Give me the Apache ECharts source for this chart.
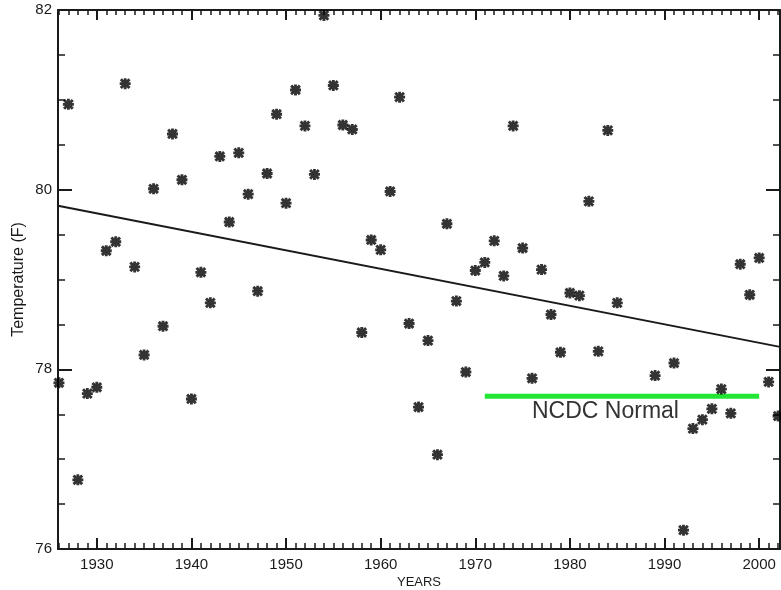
<!DOCTYPE html>
<html>
<head>
<meta charset="utf-8">
<script src="https://cdn.jsdelivr.net/npm/echarts@6/dist/echarts.min.js"></script>
<style>
html, body { margin: 0; padding: 0; background: #fff; }
#chart { width: 781px; height: 590px; }
</style>
</head>
<body>
<div id="chart"></div>
<script>

// yearly mean temperatures (F), 1986-88 and 1990 have no value
const years = [
    1926, 1927, 1928, 1929, 1930, 1931, 1932, 1933, 1934, 1935,
    1936, 1937, 1938, 1939, 1940, 1941, 1942, 1943, 1944, 1945,
    1946, 1947, 1948, 1949, 1950, 1951, 1952, 1953, 1954, 1955,
    1956, 1957, 1958, 1959, 1960, 1961, 1962, 1963, 1964, 1965,
    1966, 1967, 1968, 1969, 1970, 1971, 1972, 1973, 1974, 1975,
    1976, 1977, 1978, 1979, 1980, 1981, 1982, 1983, 1984, 1985,
    1989, 1991, 1992, 1993, 1994, 1995, 1996, 1997, 1998, 1999,
    2000, 2001, 2002
];

const temps = [
    77.85, 80.95, 76.77, 77.73, 77.80, 79.32, 79.42, 81.18, 79.14, 78.16,
    80.01, 78.48, 80.62, 80.11, 77.67, 79.08, 78.74, 80.37, 79.64, 80.41,
    79.95, 78.87, 80.18, 80.84, 79.85, 81.11, 80.71, 80.17, 81.94, 81.16,
    80.72, 80.67, 78.41, 79.44, 79.33, 79.98, 81.03, 78.51, 77.58, 78.32,
    77.05, 79.62, 78.76, 77.97, 79.10, 79.19, 79.43, 79.04, 80.71, 79.35,
    77.90, 79.11, 78.61, 78.19, 78.85, 78.82, 79.87, 78.20, 80.66, 78.74,
    77.93, 78.07, 76.21, 77.34, 77.44, 77.56, 77.78, 77.51, 79.17, 78.83,
    79.24, 77.86, 77.48
];

// linear trend, ends of the line
const trendYears = [1925.9, 2002.2];
const trendTemps = [79.82, 78.25];

// NCDC normal
const normalYears = [1971, 2000];
const normalTemps = [77.70, 77.70];

const decadeLabels = [1930, 1940, 1950, 1960, 1970, 1980, 1990, 2000];

const xMin = 1925.9;
const xMax = 2002.2;
const ink = "#1a1a1a";
const font = "'Liberation Sans', Arial, sans-serif";

// asterisk marker
const star =
    "path://M-5,-1.3 L5,-1.3 L5,1.3 L-5,1.3 Z " +
    "M-1.3,-5 L1.3,-5 L1.3,5 L-1.3,5 Z " +
    "M-4.9,-3.0 L-3.0,-4.9 L4.9,3.0 L3.0,4.9 Z " +
    "M4.9,-3.0 L-3.0,4.9 L-4.9,3.0 L3.0,-4.9 Z";

const plotRect = { left: 58, right: 1, top: 10, bottom: 41, outerBoundsMode: "none" };

// step = 10 gives the long decade ticks, step = 1 the short yearly ones
function xAxisDef(grid, position, step, len) {
    const major = step === 10;
    let axis = {
        type: "value",
        gridIndex: grid,
        position: position,
        min: xMin,
        max: xMax,
        minInterval: step,
        maxInterval: step,
        axisLine: { show: major, onZero: false, lineStyle: { color: ink, width: 2 } },
        axisTick: {
            show: true,
            inside: true,
            length: len,
            lineStyle: { color: ink, width: major ? 2 : 1.5 }
        },
        axisLabel: { show: false },
        splitLine: { show: false }
    };
    if (major && position === "bottom") {
        axis.axisLabel = {
            show: true,
            customValues: decadeLabels,
            formatter: v => String(v),
            color: ink,
            fontFamily: font,
            fontSize: 15,
            margin: 8
        };
    }
    return axis;
}

function yAxisDef(position) {
    return {
        type: "value",
        gridIndex: 0,
        position: position,
        min: 76,
        max: 82,
        interval: 2,
        axisLine: { show: true, onZero: false, lineStyle: { color: ink, width: 2 } },
        axisTick: { show: true, inside: true, length: 14, lineStyle: { color: ink, width: 2 } },
        minorTick: { show: true, splitNumber: 4, length: 7, lineStyle: { color: ink, width: 1.5 } },
        axisLabel: {
            show: position === "left",
            color: ink,
            fontFamily: font,
            fontSize: 15,
            margin: 6
        },
        splitLine: { show: false },
        minorSplitLine: { show: false }
    };
}

const chart = echarts.init(document.getElementById("chart"));

const bottomMajor = xAxisDef(0, "bottom", 10, 11);
bottomMajor.name = "YEARS";
bottomMajor.nameLocation = "middle";
bottomMajor.nameGap = 27;
bottomMajor.nameMoveOverlap = false;
bottomMajor.nameTextStyle = { color: ink, fontFamily: font, fontSize: 13 };

const leftAxis = yAxisDef("left");
leftAxis.name = "Temperature (F)";
leftAxis.nameLocation = "middle";
leftAxis.nameGap = 31;
leftAxis.nameMoveOverlap = false;
leftAxis.nameTextStyle = { color: ink, fontFamily: font, fontSize: 16 };

chart.setOption({
    animation: false,
    backgroundColor: "#fff",
    // second grid on the same rect only carries the yearly ticks
    grid: [plotRect, Object.assign({}, plotRect)],
    xAxis: [
        bottomMajor,
        xAxisDef(0, "top", 10, 10),
        xAxisDef(1, "bottom", 1, 6),
        xAxisDef(1, "top", 1, 5)
    ],
    yAxis: [
        leftAxis,
        yAxisDef("right"),
        { type: "value", gridIndex: 1, min: 76, max: 82, show: false }
    ],
    graphic: [
        {
            type: "text",
            left: 532,
            top: 400,
            style: {
                text: "NCDC Normal",
                fill: "#333",
                fontFamily: font,
                fontSize: 23
            }
        }
    ],
    series: [
        { type: "scatter", xAxisIndex: 2, yAxisIndex: 2, data: [], silent: true },
        { type: "scatter", xAxisIndex: 3, yAxisIndex: 2, data: [], silent: true },
        {
            name: "Trend",
            type: "line",
            data: trendYears.map((y, i) => [y, trendTemps[i]]),
            symbol: "none",
            lineStyle: { color: ink, width: 2 },
            z: 2
        },
        {
            name: "NCDC Normal",
            type: "line",
            data: normalYears.map((y, i) => [y, normalTemps[i]]),
            symbol: "none",
            lineStyle: { color: "#22e633", width: 5 },
            z: 3
        },
        {
            name: "Temperature",
            type: "scatter",
            data: years.map((y, i) => [y, temps[i]]),
            symbol: star,
            symbolSize: 11,
            itemStyle: { color: "#000" },
            z: 4
        }
    ]
});

</script>
</body>
</html>
